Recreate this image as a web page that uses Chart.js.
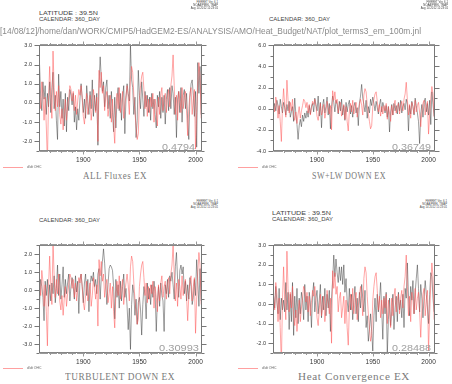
<!DOCTYPE html>
<html><head><meta charset="utf-8">
<script src="https://cdn.jsdelivr.net/npm/chart.js@4.4.1/dist/chart.umd.min.js"></script>
<style>
html,body{margin:0;padding:0;background:#fff;}
#root{position:relative;width:452px;height:384px;overflow:hidden;background:#fff;}
canvas{position:absolute;}
.t{position:absolute;white-space:nowrap;line-height:1;transform-origin:0 50%;}
.sw{position:absolute;height:1px;background:#ffa0a0;}
</style></head><body><div id="root"></div>
<script>
// ---------- data ----------
const years = Array.from({length:145},(_,i)=>1861+i);
const xTickYears = [1900,1950,2000];

// red series: d/dt OHC (same in every panel)
const dOHC = [0.4,-0.3,1.1,0.5,-0.9,0.3,-1.2,-3.1,0.2,1.9,
 0.3,-0.8,2.7,0.8,-0.4,0.6,-0.2,0.9,-0.6,-1.1,
 -0.3,-1.4,-0.5,0.2,-0.9,-0.2,0.3,0.9,0.7,0.1,
 0.6,-0.4,0.4,-0.6,0.1,0.7,0.4,0.9,0.2,-0.7,
 -1.1,-0.3,0.5,-0.6,-0.2,0.4,-0.9,-0.3,0.7,0.1,
 -0.5,0.3,-2.0,1.7,0.8,1.6,0.5,0.9,-0.4,0.3,
 0.6,-0.7,-0.2,0.4,-1.0,0.2,-1.2,-2.1,-0.2,0.5,
 -0.3,0.8,-0.5,0.1,0.6,-0.8,-0.1,0.4,0.9,0.3,
 -0.6,1.3,1.9,1.6,0.4,-0.5,-1.2,-1.9,-1.6,0.2,
 0.9,1.4,1.6,0.7,-0.3,0.4,-0.7,0.2,-0.5,0.3,
 -0.2,0.5,-1.0,0.2,-0.4,-1.2,0.3,-0.6,0.4,0.8,
 -0.4,0.2,0.5,-0.5,0.3,0.7,-0.2,0.9,1.4,2.5,
 0.9,-0.6,0.4,-0.9,0.6,0.2,-0.5,0.8,-0.3,0.3,
 0.6,-0.4,-1.7,-0.3,0.5,0.8,-0.6,0.2,0.7,-2.4,
 -0.5,1.0,2.1,1.4,-0.8];

const allFluxes = [2.0,0.3,-0.4,1.1,0.2,0.9,-0.6,0.5,-0.2,1.1,
 -0.5,0.8,1.6,-0.3,0.4,-0.9,-1.9,1.5,-0.2,0.6,
 -0.8,0.2,-1.2,0.5,-1.5,0.3,-0.4,0.7,0.4,-0.1,
 0.5,-1.0,-0.2,-1.4,-0.3,-0.9,0.2,1.0,0.3,-0.5,
 0.2,-0.8,0.9,0.1,-0.6,0.6,-0.3,1.2,-0.7,0.4,
 -0.4,0.5,-2.2,1.0,2.4,1.3,0.6,1.1,-0.2,0.8,
 1.2,-0.3,0.4,-0.8,0.6,-0.5,-1.5,0.3,-1.3,0.2,
 0.8,-0.4,0.5,-0.9,0.3,0.9,-1.6,0.2,1.0,0.5,
 0.1,3.0,1.2,0.8,-0.6,0.3,-1.8,-0.9,1.7,0.4,
 -0.3,1.1,0.2,-0.7,0.6,-0.2,0.4,-0.5,0.3,-0.9,
 0.5,-0.3,0.2,-0.6,-1.3,0.4,-0.2,0.6,-0.8,0.3,
 -0.5,0.4,-1.1,0.2,0.7,-0.4,0.8,-0.3,0.9,0.5,
 -0.6,0.3,-1.8,0.2,0.6,-0.5,0.8,-1.0,0.4,0.7,
 -0.3,0.5,-0.9,-1.9,0.3,1.0,1.2,0.4,-0.7,0.6,
 -2.3,2.1,0.5,1.9,-0.6];

const swlwDown = [-0.3,0.5,-0.2,0.8,0.3,-0.5,0.9,0.2,-0.4,0.6,
 0.1,-0.6,0.4,-0.2,0.7,-0.8,-0.3,0.2,-1.2,1.0,
 -0.5,-1.5,-2.9,-1.6,-1.0,-1.7,-0.6,-1.2,-0.4,-0.9,
 -0.2,-0.8,0.3,-0.5,0.2,0.5,-0.3,1.0,0.4,-0.2,
 1.2,-0.7,0.6,-1.8,0.3,0.9,-0.4,0.2,1.1,-0.6,
 0.5,-1.9,0.2,1.2,0.6,-0.3,0.8,0.4,-0.5,0.7,
 -0.2,0.9,-0.6,0.3,-1.1,0.6,-0.3,0.4,0.8,-0.5,
 0.3,-0.8,0.2,0.6,-0.4,0.1,-1.6,0.5,1.2,2.3,
 1.0,0.4,-0.3,0.8,-0.9,0.2,-0.4,0.9,0.3,1.1,
 0.5,-0.2,0.7,0.1,-0.5,0.4,0.9,-0.3,0.6,0.2,
 -0.4,0.3,-0.8,0.2,-2.2,-0.3,0.4,-0.6,0.5,-0.2,
 0.3,-0.5,0.6,-0.2,0.8,-0.4,0.2,0.5,-0.1,0.9,
 0.4,-2.1,0.3,-0.5,0.7,0.2,-0.6,1.0,0.3,-0.4,
 -1.2,-3.3,-0.5,0.4,-0.8,0.6,1.0,-0.3,0.5,-0.6,
 0.8,-1.5,1.6,0.4,-0.7];

const turbDown = [-0.8,0.6,0.2,-0.4,-1.7,0.5,-0.3,0.6,-0.9,0.3,
 -0.6,0.4,-0.2,0.8,-0.7,0.1,1.4,-0.3,0.9,-0.5,
 0.3,1.3,-0.4,0.6,-0.2,0.4,0.9,-0.6,0.2,0.7,
 0.2,-0.5,0.8,-0.1,0.5,-1.3,0.6,0.9,0.2,-0.7,
 0.4,0.9,-0.3,0.6,-1.2,0.3,0.8,0.5,1.0,0.2,
 0.6,-0.2,0.9,1.2,-0.5,0.7,1.6,2.3,1.5,0.4,
 -0.8,0.3,1.2,1.4,1.3,1.1,0.2,-1.6,0.6,-0.4,
 0.3,-1.0,0.5,-0.6,0.2,0.9,-0.4,0.1,-0.9,-2.2,
 -1.0,-3.3,-0.8,0.3,-0.2,-1.4,-0.5,-1.9,-0.7,-0.4,
 -1.1,-2.5,-0.8,0.2,-0.3,-1.6,0.4,-0.5,0.1,-0.8,
 0.3,-0.4,0.5,-0.2,-2.3,-0.6,0.2,-0.9,0.4,-0.3,
 -0.6,-2.3,0.3,-0.2,0.6,-0.4,0.8,0.5,1.0,0.3,
 -0.5,1.3,2.1,0.6,-0.4,1.1,1.4,0.9,1.3,-0.2,
 0.5,-0.6,0.3,-0.5,0.7,0.2,-0.8,-0.4,0.6,-0.3,
 1.7,0.5,-0.9,1.2,-0.6];

const heatConv = [0.4,-0.2,0.9,0.1,-0.5,0.8,-0.8,0.3,-0.3,0.2,
 -0.4,1.1,-0.3,0.6,-1.3,0.5,-0.9,1.1,-1.6,0.4,
 -0.7,0.8,-1.0,0.3,-0.5,0.6,0.2,-0.8,1.0,-0.3,
 0.4,-0.9,0.6,0.1,-1.2,0.5,1.1,-0.4,0.3,0.7,
 -0.5,0.2,1.0,-0.7,0.4,-0.3,0.8,-0.6,0.5,-0.2,
 0.7,-1.4,0.3,1.2,2.5,1.4,2.3,1.6,1.1,1.9,
 1.2,1.9,1.0,2.0,0.6,1.3,0.2,-0.4,0.8,-0.3,
 0.5,-0.8,0.2,0.9,-0.5,0.3,-0.9,0.6,-0.2,1.0,
 0.3,-0.4,0.7,-1.2,-0.6,-1.9,-1.3,-0.5,-1.4,-2.4,
 -0.6,0.3,-0.9,0.5,-0.4,0.2,1.1,-0.3,-1.8,0.4,
 -0.5,0.6,-2.6,-0.8,0.3,-1.1,-0.4,0.5,-1.3,-0.2,
 0.4,-0.9,0.6,-0.3,0.2,-0.7,0.5,-1.2,0.8,0.3,
 2.1,0.4,-0.6,0.9,0.2,1.2,-0.5,0.6,1.3,2.0,
 0.8,-0.4,1.0,0.3,-0.7,0.4,1.2,0.5,-0.2,-1.0,
 0.5,1.6,1.4,0.3,-0.4];

const yTicksAll  = [-2,-1,0,1,2,3];
const yTicksSW   = [-4,-2,0,2,4,6];
const yTicksTurb = [-3,-2,-1,0,1,2];
const yTicksHeat = [-2,-1,0,1,2,3];

const panelTitles = ['ALL Fluxes EX','SW+LW DOWN EX','TURBULENT DOWN EX','Heat Convergence EX'];
const correlations = ['0.4794','0.36749','0.30993','0.28488'];
const legendLabel = 'd/dt OHC';
const pathText = '[14/08/12]/home/dan/WORK/CMIP5/HadGEM2-ES/ANALYSIS/AMO/Heat_Budget/NAT/plot_terms3_em_100m.jnl';
const latText = 'LATITUDE : 39.5N';
const calText = 'CALENDAR: 360_DAY';
const stampLines = ['FERRET Ver. 6.1','NOAA/PMEL TMAP','Aug 14 2012 11:23:01'];

// ---------- layout ----------
const RED = 'rgba(255,85,85,0.58)';
const BLACK = 'rgba(45,45,45,0.58)';
const panels = [
  {series:allFluxes, yTicks:yTicksAll,  yMin:-2.5, yMax:3,   minor:0.5, area:[39,41,202,151]},
  {series:swlwDown,  yTicks:yTicksSW,   yMin:-4,   yMax:6,   minor:1,   area:[273,41,435,151]},
  {series:turbDown,  yTicks:yTicksTurb, yMin:-3.5, yMax:2.5, minor:0.5, area:[39,241,202,353]},
  {series:heatConv,  yTicks:yTicksHeat, yMin:-2.5, yMax:3,   minor:0.5, area:[273,241,435,353]},
];
const root = document.getElementById('root');

const frame = {
  id:'frame',
  afterDatasetsDraw(chart){
    const {ctx, chartArea:a, scales:{x,y}} = chart;
    const p = chart.options.plugins.frame;
    ctx.save();
    const L=Math.round(a.left)+0.5, R=Math.round(a.right)-0.5, T=Math.round(a.top)+0.5, B=Math.round(a.bottom)-0.5;
    ctx.strokeStyle='#777'; ctx.lineWidth=1;
    ctx.strokeRect(L,T,R-L,B-T);
    ctx.beginPath();
    for(let v=p.yMin; v<=p.yMax+1e-9; v+=p.minor){
      const py=Math.round(y.getPixelForValue(v))+0.5;
      const major=p.yTicks.some(t=>Math.abs(t-v)<1e-6);
      const len=major?5:3;
      ctx.moveTo(L-len,py); ctx.lineTo(L,py);
      ctx.moveTo(R,py); ctx.lineTo(R+len,py);
    }
    ctx.stroke();
    ctx.beginPath();
    ctx.strokeStyle='#999';
    for(const yr of years){
      const px=Math.round(x.getPixelForValue(yr))+0.5;
      const len = yr%50===0?4:(yr%10===0?2.5:1.5);
      ctx.moveTo(px,T-len); ctx.lineTo(px,T);
      ctx.moveTo(px,B); ctx.lineTo(px,B+len);
    }
    ctx.stroke();
    ctx.restore();
  }
};

panels.forEach((p,k)=>{
  const [L,T,R,B]=p.area;
  const cv=document.createElement('canvas');
  const w=R-L+46, h=B-T+20;
  cv.width=w; cv.height=h;
  cv.style.left=(L-40)+'px'; cv.style.top=(T-6)+'px';
  cv.style.width=w+'px'; cv.style.height=h+'px';
  root.appendChild(cv);
  new Chart(cv,{
    type:'line',
    data:{datasets:[
      {data:years.map((yr,i)=>({x:yr,y:dOHC[i]})), borderColor:RED, borderWidth:0.9, pointRadius:0, tension:0},
      {data:years.map((yr,i)=>({x:yr,y:p.series[i]})), borderColor:BLACK, borderWidth:0.8, pointRadius:0, tension:0}
    ]},
    options:{
      responsive:false, animation:false, devicePixelRatio:1,
      layout:{padding:{left:0,top:6,right:6,bottom:0}},
      plugins:{legend:{display:false}, tooltip:{enabled:false},
        frame:{yMin:p.yMin,yMax:p.yMax,minor:p.minor,yTicks:p.yTicks}},
      scales:{
        x:{type:'linear', min:1860.5, max:2005.5,
          grid:{display:false,drawTicks:false}, border:{display:false},
          afterBuildTicks:s=>{s.ticks=xTickYears.map(v=>({value:v}));},
          afterFit:s=>{s.height=14;},
          ticks:{padding:5, autoSkip:false, maxRotation:0, color:'#333',
            font:{family:'Liberation Sans', size:6.5}, callback:v=>String(v)}},
        y:{min:p.yMin, max:p.yMax,
          grid:{display:false,drawTicks:false}, border:{display:false},
          afterBuildTicks:s=>{s.ticks=p.yTicks.map(v=>({value:v}));},
          afterFit:s=>{s.width=40;},
          ticks:{padding:7, autoSkip:false, color:'#333',
            font:{family:'Liberation Sans', size:5.5}, callback:v=>Number(v).toFixed(1)}}
      }
    },
    plugins:[frame]
  });
});

// ---------- text ----------
function addText(txt,o){
  const d=document.createElement('div');
  d.className='t'; d.textContent=txt;
  d.style.fontFamily=o.font||'Liberation Sans';
  d.style.fontSize=o.fs+'px';
  d.style.color=o.color||'#333';
  if(o.ls) d.style.letterSpacing=o.ls+'px';
  root.appendChild(d);
  const nat=d.getBoundingClientRect().width;
  let wid=nat;
  if(o.w){ d.style.transform='scaleX('+(o.w/nat)+')'; wid=o.w; }
  let left=o.x;
  if(o.align==='center') left=o.x-wid/2;
  if(o.align==='right') left=o.x-wid;
  d.style.left=left+'px';
  d.style.top=(o.cy-o.fs*0.5)+'px';
  return d;
}
// headers
addText(latText,{x:39,cy:14,fs:5.5,w:59,color:'#444'});
addText(calText,{x:39,cy:19.5,fs:5.5,w:61,color:'#444'});
addText(calText,{x:269,cy:19.5,fs:5.5,w:61,color:'#444'});
addText(calText,{x:39,cy:221,fs:5.5,w:61,color:'#444'});
addText(latText,{x:272,cy:214,fs:5.5,w:59,color:'#444'});
addText(calText,{x:272,cy:219.5,fs:5.5,w:61,color:'#444'});
addText(pathText,{x:0,cy:31,fs:9,w:421,color:'#8a8a8a'});
// stamps
[[218,1],[448,1],[218,200],[447,200]].forEach(([x,y])=>{
  stampLines.forEach((s,i)=>addText(s,{x:x,cy:y+1.5+i*3,fs:2.8,align:'right',color:'#444'}));
});
// titles
const titlePos=[[115,176.7,64],[349,176.7,74],[120,377.3,110],[354,377.3,112]];
panelTitles.forEach((t,i)=>{
  const [cx,cy,w]=titlePos[i];
  addText(t,{x:cx,cy:cy,fs:10.5,w:w,ls:0.6,align:'center',font:'Liberation Serif',color:'#7a7a7a'});
});
// correlations
const corrPos=[[195,146.5,33],[431,146.5,39],[198.5,347.5,40],[431,347.5,39]];
correlations.forEach((c,i)=>{
  const [rx,cy,w]=corrPos[i];
  addText(c,{x:rx,cy:cy,fs:9.5,w:w,align:'right',color:'#a0a0a0'});
});
// legends
[[3,167.7],[238,167.7],[3,368.3],[238,368.3]].forEach(([x,y])=>{
  const s=document.createElement('div'); s.className='sw';
  s.style.left=x+'px'; s.style.top=(y-0.5)+'px'; s.style.width='20px';
  root.appendChild(s);
  addText(legendLabel,{x:x+24,cy:y,fs:3.5,color:'#666'});
});
</script></body></html>
